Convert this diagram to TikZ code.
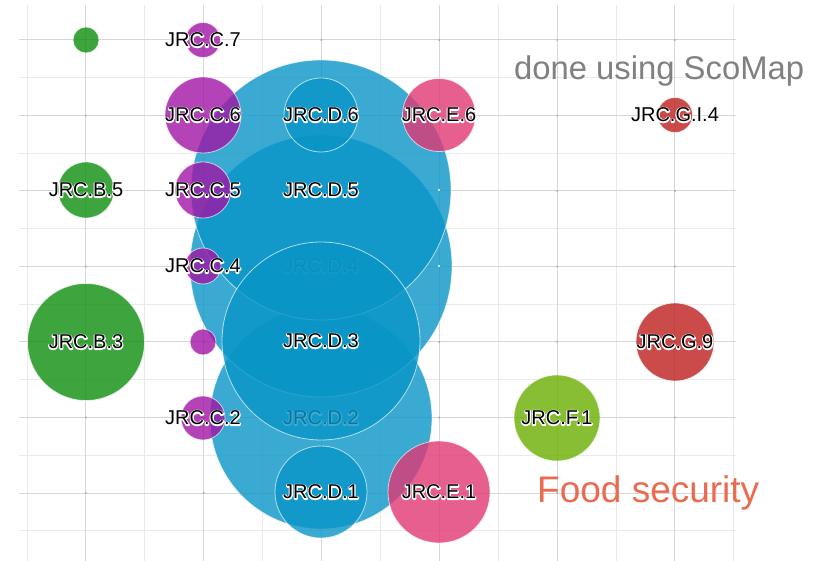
\documentclass[tikz,border=0pt]{standalone}
\usepackage{fontspec}
\setmainfont{Liberation Sans}
\definecolor{gridmaj}{RGB}{214,214,214}
\definecolor{gridmin}{RGB}{234,234,234}
\definecolor{gdot}{RGB}{170,170,170}
\definecolor{cB}{RGB}{14,143,14}
\definecolor{cC}{RGB}{160,20,165}
\definecolor{cD}{RGB}{9,149,199}
\definecolor{cE}{RGB}{226,56,115}
\definecolor{cF}{RGB}{106,174,0}
\definecolor{cG}{RGB}{191,31,31}
\definecolor{notegray}{RGB}{128,128,128}
\definecolor{foodred}{RGB}{234,107,80}
\newcommand\halo[1]{\special{pdf:literal direct q 1 Tr 2.4 w 1 1 1 RG 1 j}\rlap{#1}\special{pdf:literal direct Q}#1}
\tikzset{
  bub/.style={circle, inner sep=0pt, draw=white, draw opacity=0.65, line width=0.8pt, fill opacity=0.8},
  lbl/.style={font=\fontsize{20}{24}\selectfont, inner sep=0pt, text=black, text opacity=1},
  gmaj/.style={draw=gridmaj, line width=1pt},
  gmin/.style={draw=gridmin, line width=1pt},
}
\newcommand\bubl[6]{%
  \node[bub, fill=#5, minimum size=#4pt] (#1) at (#2,#3) {};
  \node[lbl] (#1t) at (#1) {\halo{#6}};}
\newcommand\bubn[5]{%
  \node[bub, fill=#5, minimum size=#4pt] (#1) at (#2,#3) {};}
\begin{document}
\begin{tikzpicture}[x=1pt,y=-1pt]
\useasboundingbox (0,0) rectangle (825,561);
\fill[white] (0,0) rectangle (825,561);
% grid: minor
\foreach \i in {0,2,...,12} {
  \draw[gmin] ({27+58.9*\i},5) -- ({27+58.9*\i},561);
}
\foreach \j in {1,3,...,13} {
  \draw[gmin] (19,{40+37.75*\j}) -- (736,{40+37.75*\j});
}
% grid: major
\foreach \i in {1,3,...,11} {
  \draw[gmaj] ({27+58.9*\i},5) -- ({27+58.9*\i},561);
}
\foreach \j in {0,2,...,12} {
  \draw[gmaj] (19,{40+37.75*\j}) -- (736,{40+37.75*\j});
}
\foreach \i in {1,3,...,11} {
  \foreach \j in {0,2,...,12} {
    \fill[gdot] ({27+58.9*\i},{40+37.75*\j}) circle (1.1);
  }
}
% D series
\bubl{d2}{321}{418}{222}{cD}{JRC.D.2}
\bubl{d4}{321}{266}{262}{cD}{JRC.D.4}
\bubl{d5}{321}{190}{260}{cD}{JRC.D.5}
\bubl{d3}{321}{341}{198}{cD}{JRC.D.3}
\bubl{d6}{321}{115}{74}{cD}{JRC.D.6}
\bubl{d1}{321}{492}{92}{cD}{JRC.D.1}
\fill[white, opacity=0.8] (439,190) circle (1.4);
\fill[white, opacity=0.8] (439,266) circle (1.4);
% B series
\bubn{b7}{86}{40}{26}{cB}
\bubl{b5}{86}{190}{56}{cB}{JRC.B.5}
\bubl{b3}{86}{342}{117}{cB}{JRC.B.3}
% C series
\bubl{c7}{203}{40}{35}{cC}{JRC.C.7}
\bubl{c6}{203}{115}{76}{cC}{JRC.C.6}
\bubl{c5}{203}{190}{56}{cC}{JRC.C.5}
\bubl{c4}{203}{266}{36}{cC}{JRC.C.4}
\bubn{c3}{203}{342}{26}{cC}
\bubl{c2}{203}{418}{44}{cC}{JRC.C.2}
% E series
\bubl{e6}{439}{115}{73}{cE}{JRC.E.6}
\bubl{e1}{439}{492}{102}{cE}{JRC.E.1}
% F series
\bubl{f1}{557}{418}{86}{cF}{JRC.F.1}
% G series
\bubl{g4}{675}{115}{35}{cG}{JRC.G.I.4}
\bubl{g9}{675}{342}{78}{cG}{JRC.G.9}
% notes
\node[anchor=base west, inner sep=0pt, text=notegray, font=\fontsize{32.8}{40}\selectfont] (note) at (514,80) {done using ScoMap};
\node[anchor=base west, inner sep=0pt, text=foodred, font=\fontsize{37}{44}\selectfont] (food) at (537,502) {Food security};
\end{tikzpicture}
\end{document}
